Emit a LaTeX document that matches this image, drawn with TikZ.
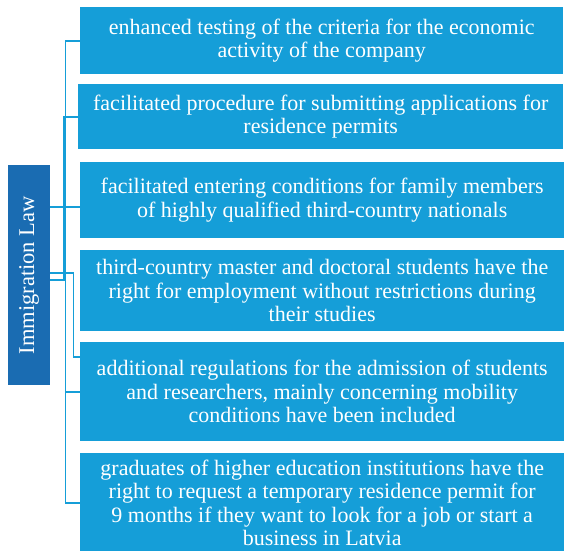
\documentclass[tikz,border=0pt]{standalone}
\usepackage{fontspec}
\setmainfont{Liberation Serif}
\definecolor{boxblue}{RGB}{21,158,216}
\definecolor{rootblue}{RGB}{26,108,178}
\tikzset{
  itembox/.style={fill=boxblue, draw=none, text=white, align=center, anchor=north west,
    inner sep=0pt, font=\fontsize{22}{23.5}\selectfont},
  rootbox/.style={fill=rootblue, draw=none, anchor=north west, inner sep=0pt},
  conn/.style={draw=boxblue, line width=1.7pt}
}
\begin{document}
\begin{tikzpicture}[x=1pt,y=-1pt]
\useasboundingbox (0,0) rectangle (565,550);
\node[rootbox, minimum width=42pt, minimum height=220pt] (root) at (8,165) {};
\node[text=white, rotate=90, font=\fontsize{22.5}{26}\selectfont] (roottext) at (root.center) {Immigration Law};
\node[itembox, minimum width=483pt, minimum height=67pt] (b1) at (80,7)
  {enhanced testing of the criteria for the economic\\activity of the company};
\node[itembox, minimum width=485pt, minimum height=65pt] (b2) at (78,84)
  {facilitated procedure for submitting applications for\\residence permits};
\node[itembox, minimum width=484pt, minimum height=76pt] (b3) at (80,162)
  {facilitated entering conditions for family members\\of highly qualified third-country nationals};
\node[itembox, minimum width=484pt, minimum height=81pt] (b4) at (80,250)
  {third-country master and doctoral students have the\\right for employment without restrictions during\\their studies};
\node[itembox, minimum width=484pt, minimum height=99pt] (b5) at (80,342)
  {additional regulations for the admission of students\\and researchers, mainly concerning mobility\\conditions have been included};
\node[itembox, minimum width=484pt, minimum height=99pt] (b6) at (80,453)
  {graduates of higher education institutions have the\\right to request a temporary residence permit for\\9 months if they want to look for a job or start a\\business in Latvia};
% connectors
\draw[conn] ([yshift=-5pt]root.east) -- ++(15,0) |- (b1.west);
\draw[conn] ([yshift=-5pt]root.east) -- ++(13.5,0) |- (b2.west);
\draw[conn] ([yshift=68pt]root.east) -- ([yshift=68pt]root.east -| b3.west);
\draw[conn] ([yshift=2pt]root.east) -- ++(23,0) |- ([yshift=-15pt]b5.north west);
\draw[conn] ([yshift=-5pt]root.east) -- ++(15,0) |- (b5.west);
\draw[conn] ([yshift=-5pt]root.east) -- ++(15,0) |- (b6.west);
\end{tikzpicture}
\end{document}
